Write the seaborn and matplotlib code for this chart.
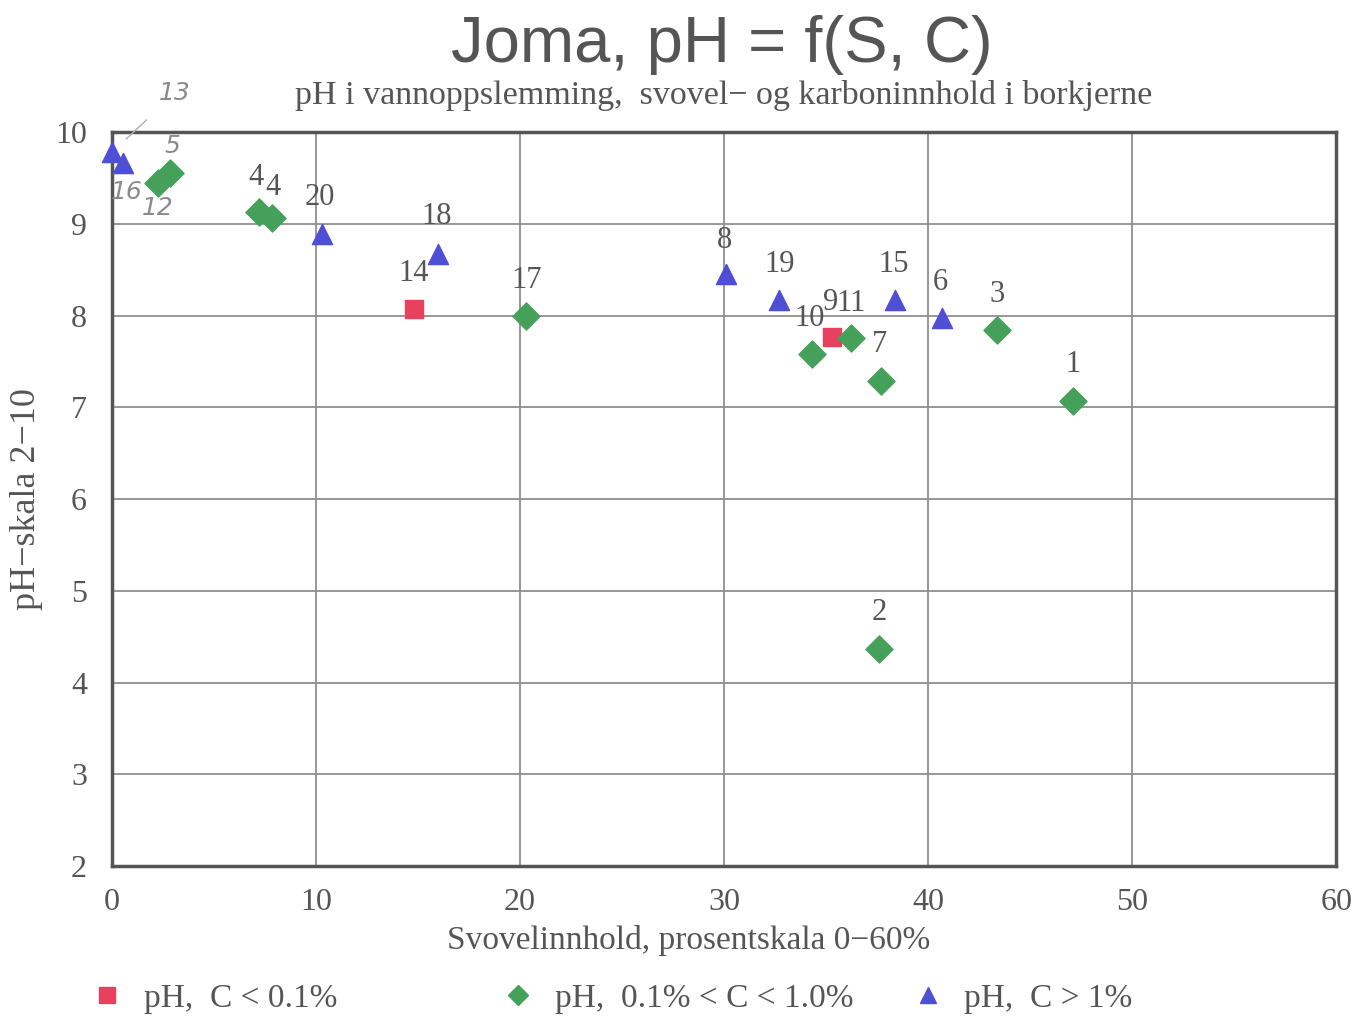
import matplotlib
matplotlib.use("Agg")
import matplotlib.pyplot as plt
import seaborn as sns
import pandas as pd
from matplotlib.lines import Line2D

# ---- data ----
red_x = [14.8, 35.3]
red_y = [8.07, 7.77]
red_labels = ["14", "9"]

green_x = [2.25, 2.84, 7.2, 7.84, 20.3, 34.3, 36.2, 37.7, 43.4, 47.1, 37.6]
green_y = [9.44, 9.55, 9.13, 9.06, 8.0, 7.58, 7.75, 7.29, 7.84, 7.07, 4.37]
green_labels = ["12", "5", "4", "4", "17", "10", "11", "7", "3", "1", "2"]

blue_x = [0.0, 0.54, 10.3, 16.0, 30.1, 32.7, 38.4, 40.7]
blue_y = [9.78, 9.66, 8.89, 8.67, 8.45, 8.17, 8.17, 7.97]
blue_labels = ["13", "16", "20", "18", "8", "19", "15", "6"]

handwritten = {"12", "5", "13", "16"}

series_names = ["pH,  C < 0.1%", "pH,  0.1% < C < 1.0%", "pH,  C > 1%"]
x_ticks = [0, 10, 20, 30, 40, 50, 60]
y_ticks = [2, 3, 4, 5, 6, 7, 8, 9, 10]

title = "Joma, pH = f(S, C)"
subtitle = "pH i vannoppslemming,  svovel\u2212 og karboninnhold i borkjerne"
xlabel = "Svovelinnhold, prosentskala 0\u221260%"
ylabel = "pH\u2212skala 2\u221210"

# ---- styles ----
colors = ["#e8415e", "#45a05a", "#4f4fd6"]
markers = ["s", "D", "^"]
sizes = [150, 190, 210]
label_offsets = {
    0: [(0, 36), (-2, 34)],
    1: [(0, -25), (2, 27), (-3, 34), (1, 31), (0, 35), (-2, 36), (0, 35),
        (-2, 36), (0, 36), (0, 36), (0, 36)],
    2: [(63, 59), (4, -29), (-2, 36), (-2, 38), (-2, 34), (0, 35), (-2, 35), (-2, 36)],
}

sns.set_style("white")
plt.rcParams["font.family"] = ["Liberation Serif", "DejaVu Serif"]

fig = plt.figure(figsize=(13.7, 10.21), dpi=100)
ax = fig.add_axes([0.0818, 0.1518, 0.8935, 0.7189])

all_x = [red_x, green_x, blue_x]
all_y = [red_y, green_y, blue_y]
all_lab = [red_labels, green_labels, blue_labels]

for i in range(3):
    df = pd.DataFrame({"x": all_x[i], "y": all_y[i]})
    sns.scatterplot(data=df, x="x", y="y", ax=ax, color=colors[i], marker=markers[i],
                    s=sizes[i], edgecolor=colors[i], linewidth=1, zorder=5,
                    clip_on=False, legend=False)
    for j, lab in enumerate(all_lab[i]):
        dx, dy = label_offsets[i][j]
        if lab in handwritten:
            kw = dict(fontsize=18, color="#8a8a8a", style="italic",
                      family=["DejaVu Sans"])
            if lab == "13":
                kw["arrowprops"] = dict(arrowstyle="-", color="#b0b0b0", lw=1,
                                        shrinkA=12, shrinkB=14)
        else:
            kw = dict(fontsize=22, color="#555555")
        ax.annotate(lab, (all_x[i][j], all_y[i][j]), xytext=(dx, dy),
                    textcoords="offset pixels", ha="center", va="center",
                    zorder=6, annotation_clip=False, **kw)

ax.set_xlim(0, 60)
ax.set_ylim(2, 10)
ax.set_xticks(x_ticks)
ax.set_yticks(y_ticks)
ax.grid(True, color="#8f8f8f", linewidth=1.3)
ax.set_axisbelow(True)
for sp in ax.spines.values():
    sp.set_color("#555555")
    sp.set_linewidth(2.5)
ax.tick_params(axis="both", length=0, labelsize=23, labelcolor="#555555")
ax.tick_params(axis="x", pad=16)
ax.tick_params(axis="y", pad=18)
ax.set_xlabel(xlabel, fontsize=24, color="#555555")
ax.set_ylabel(ylabel, fontsize=26, color="#555555")
ax.xaxis.set_label_coords(0.4706, -0.080)
ax.yaxis.set_label_coords(-0.0566, 0.5)

fig.text(0.527, 0.956, title, ha="center", va="center", fontsize=47,
         color="#555555", family=["Liberation Sans", "DejaVu Sans"])
fig.text(0.528, 0.906, subtitle, ha="center", va="center", fontsize=24.5,
         color="#555555")

leg_x = [0.044, 0.344, 0.643]
for i in range(3):
    h = Line2D([], [], linestyle="none", marker=markers[i], color=colors[i],
               markersize=11 if i != 1 else 10)
    leg = fig.legend([h], [series_names[i]], loc="center left",
                     bbox_to_anchor=(leg_x[i], 0.022), frameon=False,
                     fontsize=24, handletextpad=0.6, handlelength=1.0,
                     labelcolor="#555555")

fig.savefig("out.png", dpi=100)
